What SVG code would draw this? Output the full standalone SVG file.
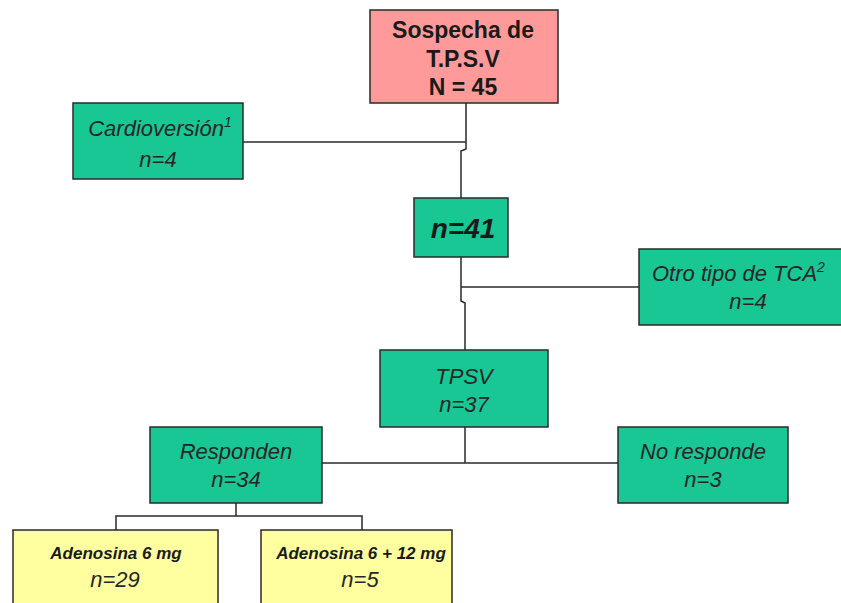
<svg xmlns="http://www.w3.org/2000/svg" width="841" height="603" viewBox="0 0 841 603">
<style>
.box{stroke:#2a2a2a;stroke-width:1.5}
.pink{fill:#FF9A9A}
.green{fill:#19C795}
.yellow{fill:#FFFFA0}
.t{font-family:"Liberation Sans",Arial,sans-serif;fill:#1a1a1a;text-anchor:middle}
.b{font-weight:bold;font-size:23px}
.i{font-style:italic;font-size:22px;fill:#262626}
.bi{font-style:italic;font-weight:bold}
.ln{stroke:#2a2a2a;stroke-width:1.5;fill:none}
</style>
<rect width="841" height="603" fill="#fff"/>
<g id="connectors">
<polyline class="ln" points="466,103 466,149 461,151 461,198"/>
<line class="ln" x1="243" y1="142" x2="466" y2="142"/>
<polyline class="ln" points="461,257 461,301 465,303 465,350"/>
<line class="ln" x1="461" y1="287" x2="639" y2="287"/>
<line class="ln" x1="465" y1="427" x2="465" y2="463"/>
<line class="ln" x1="322" y1="463" x2="618" y2="463"/>
<line class="ln" x1="236" y1="503" x2="236" y2="516"/>
<polyline class="ln" points="116,530 116,516 362,516 362,530"/>
</g>
<g id="n-sospecha">
<rect class="box pink" x="370" y="10" width="188" height="93"/>
<text class="t b" x="463" y="38">Sospecha de</text>
<text class="t b" x="463" y="67">T.P.S.V</text>
<text class="t b" x="463" y="95">N = 45</text>
</g>
<g id="n-cardioversion">
<rect class="box green" x="73" y="103" width="170" height="76"/>
<text class="t i" x="160" y="136">Cardioversión<tspan font-size="14" dy="-9">1</tspan></text>
<text class="t i" x="158" y="167">n=4</text>
</g>
<g id="n-41">
<rect class="box green" x="414" y="198" width="94" height="59"/>
<text class="t bi" x="463" y="238" font-size="28">n=41</text>
</g>
<g id="n-otro">
<rect class="box green" x="639" y="249" width="210" height="76"/>
<text class="t i" x="652" y="281" style="text-anchor:start">Otro tipo de TCA<tspan font-size="14" dy="-9">2</tspan></text>
<text class="t i" x="748" y="309">n=4</text>
</g>
<g id="n-tpsv">
<rect class="box green" x="380" y="350" width="168" height="77"/>
<text class="t i" x="464" y="384">TPSV</text>
<text class="t i" x="464" y="412">n=37</text>
</g>
<g id="n-responden">
<rect class="box green" x="150" y="427" width="172" height="76"/>
<text class="t i" x="236" y="459">Responden</text>
<text class="t i" x="236" y="487">n=34</text>
</g>
<g id="n-noresponde">
<rect class="box green" x="618" y="427" width="170" height="76"/>
<text class="t i" x="703" y="459">No responde</text>
<text class="t i" x="703" y="487">n=3</text>
</g>
<g id="n-aden6">
<rect class="box yellow" x="13" y="530" width="205" height="80"/>
<text class="t bi" x="116" y="559" font-size="17">Adenosina 6 mg</text>
<text class="t i" x="115" y="587">n=29</text>
</g>
<g id="n-aden612">
<rect class="box yellow" x="261" y="530" width="191" height="80"/>
<text class="t bi" x="361" y="559" font-size="17">Adenosina 6 + 12 mg</text>
<text class="t i" x="360" y="587">n=5</text>
</g>
</svg>
